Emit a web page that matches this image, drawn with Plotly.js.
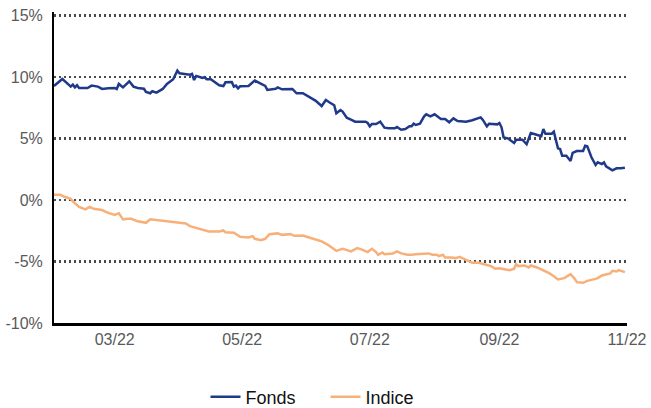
<!DOCTYPE html>
<html>
<head>
<meta charset="utf-8">
<script src="https://cdn.plot.ly/plotly-3.0.1.min.js"></script>
<style>html,body{margin:0;padding:0;background:#fff;}#chart{width:651px;height:408px;}</style>
</head>
<body>
<div id="chart"></div>
<script>
const fondsDates = ["2022-01-31","2022-02-04","2022-02-07","2022-02-08","2022-02-09","2022-02-10","2022-02-11","2022-02-12","2022-02-16","2022-02-18","2022-02-21","2022-02-23","2022-02-26","2022-03-01","2022-03-02","2022-03-03","2022-03-05","2022-03-08","2022-03-10","2022-03-12","2022-03-15","2022-03-16","2022-03-18","2022-03-19","2022-03-21","2022-03-24","2022-03-26","2022-03-29","2022-03-31","2022-04-01","2022-04-06","2022-04-07","2022-04-08","2022-04-09","2022-04-11","2022-04-12","2022-04-13","2022-04-14","2022-04-16","2022-04-20","2022-04-22","2022-04-23","2022-04-26","2022-04-27","2022-04-28","2022-04-29","2022-04-30","2022-05-04","2022-05-07","2022-05-10","2022-05-12","2022-05-13","2022-05-17","2022-05-18","2022-05-20","2022-05-25","2022-05-27","2022-05-30","2022-06-02","2022-06-05","2022-06-08","2022-06-10","2022-06-12","2022-06-14","2022-06-15","2022-06-17","2022-06-18","2022-06-20","2022-06-22","2022-06-24","2022-06-29","2022-06-30","2022-07-01","2022-07-02","2022-07-04","2022-07-06","2022-07-08","2022-07-10","2022-07-13","2022-07-14","2022-07-16","2022-07-18","2022-07-20","2022-07-21","2022-07-22","2022-07-23","2022-07-25","2022-07-27","2022-07-28","2022-07-30","2022-08-01","2022-08-04","2022-08-06","2022-08-08","2022-08-10","2022-08-12","2022-08-16","2022-08-19","2022-08-23","2022-08-24","2022-08-26","2022-08-27","2022-08-31","2022-09-01","2022-09-02","2022-09-03","2022-09-05","2022-09-07","2022-09-08","2022-09-09","2022-09-12","2022-09-14","2022-09-16","2022-09-18","2022-09-21","2022-09-22","2022-09-23","2022-09-26","2022-09-27","2022-09-29","2022-09-30","2022-10-01","2022-10-03","2022-10-05","2022-10-06","2022-10-08","2022-10-11","2022-10-12","2022-10-13","2022-10-15","2022-10-17","2022-10-18","2022-10-20","2022-10-21","2022-10-22","2022-10-25","2022-10-27","2022-10-29","2022-10-31"];
const fondsValues = [9.28,9.85,9.39,9.23,9.39,9.17,9.34,9.12,9.12,9.31,9.23,9.04,9.09,9.12,9.04,9.45,9.17,9.66,9.23,9.12,9.06,8.79,8.69,8.85,8.74,9.04,9.45,9.83,10.53,10.32,10.2,10.26,9.77,10.1,9.99,9.93,9.99,9.83,9.83,9.34,9.28,9.58,9.61,9.23,9.31,9.09,9.26,9.28,9.72,9.45,9.28,8.96,9.06,9.17,9.01,9.04,8.69,8.69,8.36,8.09,7.65,8.14,7.92,7.71,7.06,7.33,7.2,6.7,6.54,6.38,6.38,6.27,6.0,6.19,6.19,6.38,5.89,5.84,5.84,5.94,5.72,5.78,6.0,6.0,6.21,6.11,6.21,6.81,6.98,6.81,6.98,6.6,6.6,6.33,6.65,6.43,6.38,6.49,6.73,6.54,6.0,6.21,6.16,6.27,5.92,5.1,5.02,4.75,4.64,4.91,4.91,4.54,5.46,5.35,5.19,5.78,5.4,5.4,5.56,4.21,4.15,3.61,3.61,3.18,3.83,3.99,3.99,4.42,4.37,3.48,2.85,3.07,2.93,3.07,2.74,2.42,2.58,2.58,2.63];

const indiceDates = ["2022-01-31","2022-02-03","2022-02-05","2022-02-08","2022-02-09","2022-02-12","2022-02-15","2022-02-17","2022-02-19","2022-02-23","2022-02-25","2022-03-01","2022-03-03","2022-03-04","2022-03-05","2022-03-07","2022-03-09","2022-03-12","2022-03-16","2022-03-18","2022-03-21","2022-03-24","2022-03-28","2022-04-01","2022-04-04","2022-04-06","2022-04-08","2022-04-11","2022-04-15","2022-04-20","2022-04-22","2022-04-23","2022-04-27","2022-04-30","2022-05-04","2022-05-06","2022-05-07","2022-05-10","2022-05-12","2022-05-14","2022-05-18","2022-05-20","2022-05-24","2022-05-26","2022-05-30","2022-06-02","2022-06-08","2022-06-11","2022-06-13","2022-06-15","2022-06-16","2022-06-18","2022-06-19","2022-06-22","2022-06-25","2022-06-27","2022-06-30","2022-07-02","2022-07-04","2022-07-05","2022-07-07","2022-07-08","2022-07-12","2022-07-14","2022-07-16","2022-07-19","2022-07-21","2022-07-23","2022-07-29","2022-07-31","2022-08-02","2022-08-03","2022-08-05","2022-08-06","2022-08-09","2022-08-11","2022-08-13","2022-08-16","2022-08-19","2022-08-22","2022-08-25","2022-08-28","2022-08-30","2022-09-01","2022-09-04","2022-09-06","2022-09-08","2022-09-09","2022-09-10","2022-09-13","2022-09-15","2022-09-16","2022-09-19","2022-09-22","2022-09-25","2022-09-27","2022-09-29","2022-10-02","2022-10-05","2022-10-07","2022-10-08","2022-10-11","2022-10-13","2022-10-17","2022-10-18","2022-10-20","2022-10-22","2022-10-24","2022-10-25","2022-10-27","2022-10-28","2022-10-30","2022-10-31"];
const indiceValues = [0.43,0.43,0.27,0.11,-0.11,-0.55,-0.76,-0.55,-0.71,-0.81,-0.98,-1.2,-1.08,-1.28,-1.57,-1.52,-1.52,-1.73,-1.85,-1.57,-1.63,-1.68,-1.73,-1.79,-1.9,-2.12,-2.22,-2.34,-2.55,-2.55,-2.47,-2.61,-2.66,-2.99,-3.04,-2.93,-3.15,-3.26,-3.15,-2.77,-2.71,-2.83,-2.77,-2.91,-2.88,-3.04,-3.36,-3.64,-3.85,-4.13,-4.07,-3.96,-4.01,-4.18,-3.91,-4.01,-4.23,-3.96,-4.23,-4.45,-4.26,-4.4,-4.34,-4.18,-4.34,-4.45,-4.45,-4.4,-4.34,-4.45,-4.45,-4.56,-4.45,-4.67,-4.67,-4.72,-4.62,-4.89,-5.1,-5.1,-5.21,-5.37,-5.59,-5.54,-5.64,-5.7,-5.59,-5.21,-5.37,-5.32,-5.48,-5.32,-5.48,-5.7,-5.97,-6.19,-6.46,-6.35,-6.03,-6.41,-6.68,-6.73,-6.57,-6.41,-6.35,-6.13,-6.03,-5.97,-5.76,-5.81,-5.7,-5.81,-5.86];

const xTickDates = ["2022-03-01","2022-05-01","2022-07-01","2022-09-01","2022-11-01"];
const xTickLabels = ["03/22","05/22","07/22","09/22","11/22"];
const yTickValues = [-10,-5,0,5,10,15];
const yTickLabels = ["-10%","-5%","0%","5%","10%","15%"];
const seriesNames = ["Fonds","Indice"];

const traces = [
  {x: fondsDates, y: fondsValues, name: seriesNames[0], type: "scatter", mode: "lines",
   line: {color: "#1f3a8a", width: 2.5}},
  {x: indiceDates, y: indiceValues, name: seriesNames[1], type: "scatter", mode: "lines",
   line: {color: "#f7b07a", width: 2.5}}
];

const layout = {
  width: 651, height: 408,
  margin: {l: 54, r: 24, t: 12, b: 85, autoexpand: false},
  paper_bgcolor: "#fff", plot_bgcolor: "#fff",
  font: {family: "Liberation Sans, Arial, sans-serif", size: 16, color: "#595959"},
  showlegend: true,
  legend: {orientation: "h", x: 0.5, xanchor: "center", xref: "container",
           y: 0.027, yanchor: "middle", yref: "container",
           entrywidth: 75, entrywidthmode: "pixels",
           font: {size: 18, color: "#111"}, traceorder: "normal"},
  xaxis: {type: "date", range: ["2022-01-31", "2022-11-01"],
          tickmode: "array", tickvals: xTickDates, ticktext: xTickLabels,
          showgrid: false, zeroline: false, showline: true, linecolor: "#000", linewidth: 3,
          ticks: "", tickfont: {size: 16, color: "#595959"}},
  yaxis: {range: [-10, 15.3], tickmode: "array", tickvals: yTickValues, ticktext: yTickLabels,
          showgrid: true, gridcolor: "#4a4a4a", gridwidth: 2.5, griddash: "2px,3px",
          zeroline: false, showline: true, linecolor: "#000", linewidth: 2,
          ticks: "", ticklabelstandoff: 6, tickfont: {size: 16, color: "#595959"}}
};

Plotly.newPlot("chart", traces, layout, {displayModeBar: false, staticPlot: true});
</script>
</body>
</html>
